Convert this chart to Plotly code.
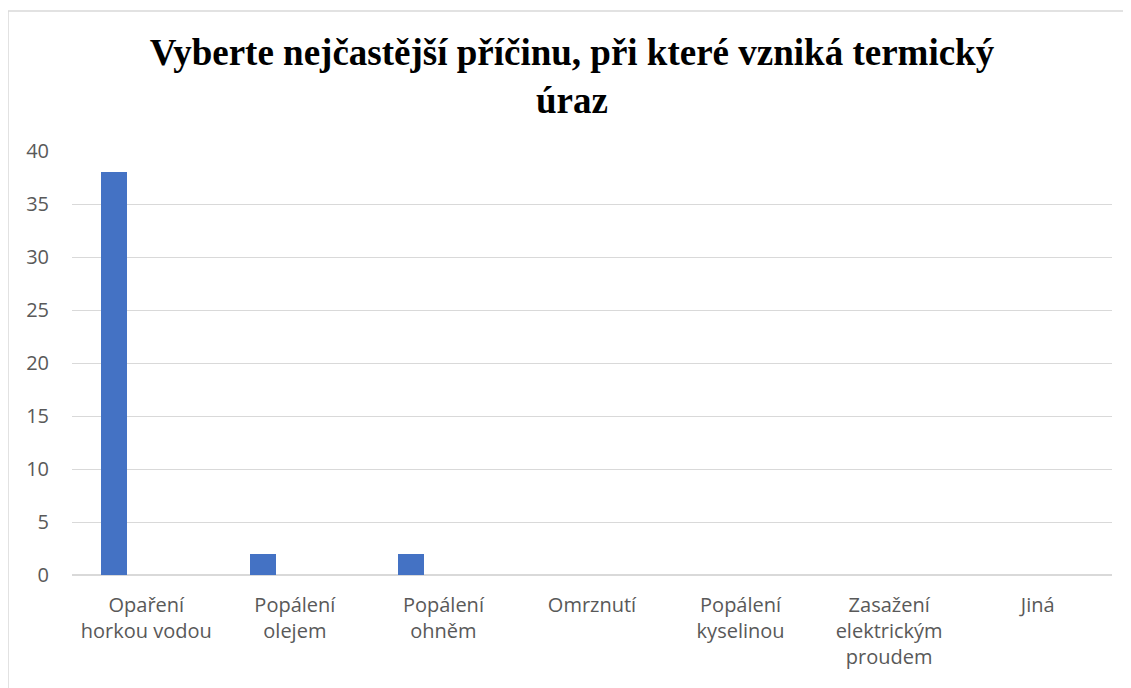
import plotly.graph_objects as go

categories = ["Opaření<br>horkou vodou", "Popálení<br>olejem", "Popálení<br>ohněm", "Omrznutí",
              "Popálení<br>kyselinou", "Zasažení<br>elektrickým<br>proudem", "Jiná"]
values = [38, 2, 2, 0, 0, 0, 0]
y_ticks = [0, 5, 10, 15, 20, 25, 30, 35, 40]
title_text = "Vyberte nejčastější příčinu, při které vzniká termický<br>úraz"

# page has an 8px body margin; figure coordinates = page - 8
OFF = 8
W, H = 1131 - OFF, 688 - OFF
L, T = 72 - OFF, 151 - OFF
R = W - (1112 - OFF)
B = H - (575 - OFF)
pw, ph = W - L - R, H - T - B

fig = go.Figure()
fig.add_trace(go.Bar(
    x=list(range(len(categories))), y=values,
    width=0.175, offset=-0.303,
    marker=dict(color="#4472C4", line=dict(width=0)),
    hoverinfo="skip",
))

def px_x(p):  # page px -> paper
    return (p - OFF - L) / pw

def px_y(p):
    return (H - B - (p - OFF)) / ph

border = "#D9D9D9"
fig.add_shape(type="line", xref="paper", yref="paper",
              x0=px_x(8), x1=px_x(8), y0=px_y(11), y1=px_y(700),
              line=dict(color=border, width=1.5))
fig.add_shape(type="line", xref="paper", yref="paper",
              x0=px_x(8), x1=px_x(1140), y0=px_y(11), y1=px_y(11),
              line=dict(color=border, width=1.5))

fig.update_layout(
    width=W, height=H,
    margin=dict(l=L, r=R, t=T, b=B, pad=0),
    paper_bgcolor="white", plot_bgcolor="white",
    showlegend=False,
    title=dict(text=title_text, x=px_x(572), xanchor="center", xref="paper",
               y=1 - (65 - OFF) / H, yref="container", yanchor="top",
               font=dict(family="Liberation Serif", size=37, color="black", weight="bold")),
    xaxis=dict(
        range=[-0.5, len(categories) - 0.5],
        tickmode="array", tickvals=list(range(len(categories))), ticktext=categories,
        showgrid=False, zeroline=False, showline=False, ticks="",
        tickfont=dict(family="Open Sans", size=20, color="#595959"),
        ticklabelstandoff=16,
    ),
    yaxis=dict(
        range=[0, 40], tickmode="array", tickvals=y_ticks,
        showgrid=True, gridcolor="#D9D9D9", gridwidth=1,
        zeroline=True, zerolinecolor="#D9D9D9", zerolinewidth=1.5,
        showline=False, ticks="",
        tickfont=dict(family="Open Sans", size=20, color="#595959"),
        ticklabelstandoff=22,
    ),
    bargap=0,
)

fig.write_html("out.html")
